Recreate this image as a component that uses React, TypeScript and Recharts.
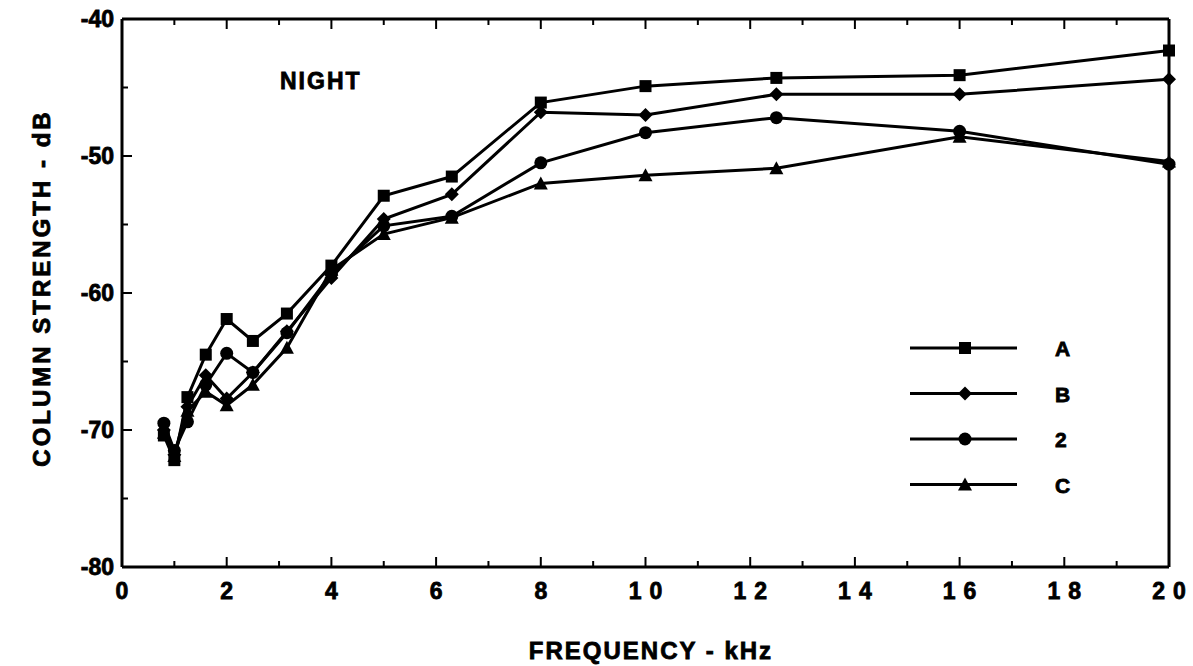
import React from "react";
import { LineChart, Line, XAxis, YAxis } from "recharts";

// 1/3-octave centre frequencies, kHz
const freqs = [0.8, 1.0, 1.25, 1.6, 2.0, 2.5, 3.15, 4.0, 5.0, 6.3, 8.0, 10, 12.5, 16, 20];

const seriesA = [-70.4, -72.2, -67.6, -64.5, -61.9, -63.5, -61.5, -58.0, -52.9, -51.5, -46.1, -44.9, -44.3, -44.1, -42.3];
const seriesB = [-70.0, -71.8, -68.3, -66.0, -67.7, -65.8, -62.8, -58.9, -54.6, -52.8, -46.8, -47.0, -45.5, -45.5, -44.4];
const series2 = [-69.5, -71.5, -69.4, -66.7, -64.4, -65.8, -62.9, -58.6, -55.1, -54.4, -50.5, -48.3, -47.2, -48.2, -50.6];
const seriesC = [-70.2, -71.9, -68.6, -67.2, -68.2, -66.7, -64.0, -58.3, -55.7, -54.5, -52.0, -51.4, -50.9, -48.6, -50.4];

const xTicks = [0, 1, 2, 3, 4, 5, 6, 7, 8, 9, 10, 11, 12, 13, 14, 15, 16, 17, 18, 19, 20];
const yTicks = [-80, -75, -70, -65, -60, -55, -50, -45, -40];

const legendItems = [
  { key: "A", name: "A", shape: "square" },
  { key: "B", name: "B", shape: "diamond" },
  { key: "S2", name: "2", shape: "circle" },
  { key: "C", name: "C", shape: "triangle" },
];

const data = freqs.map((f, i) => ({
  f,
  A: seriesA[i],
  B: seriesB[i],
  S2: series2[i],
  C: seriesC[i],
}));

const FONT = "'Liberation Sans', Arial, Helvetica, sans-serif";
const INK = "#000";
// the scanned lettering is heavier than plain bold, so thicken it a little
const heavy = { fontFamily: FONT, fontWeight: "bold" as const, fill: INK, stroke: INK, strokeWidth: 0.8 };

function Marker({ shape, cx, cy }: { shape: string; cx: number; cy: number }) {
  if (cx == null || cy == null) return null;
  if (shape === "square") {
    return <rect x={cx - 6} y={cy - 6} width={12} height={12} fill={INK} />;
  }
  if (shape === "diamond") {
    return (
      <polygon
        points={`${cx},${cy - 7} ${cx + 7},${cy} ${cx},${cy + 7} ${cx - 7},${cy}`}
        fill={INK}
      />
    );
  }
  if (shape === "circle") {
    return <circle cx={cx} cy={cy} r={6.5} fill={INK} />;
  }
  return (
    <polygon
      points={`${cx},${cy - 7} ${cx + 7},${cy + 6} ${cx - 7},${cy + 6}`}
      fill={INK}
    />
  );
}

const dotFor = (shape: string) => (p: any) =>
  <Marker key={`${shape}-${p.index}`} shape={shape} cx={p.cx} cy={p.cy} />;

// tick renderers: ticks point into the plot, labels only on the major ones
function BottomTick(p: any) {
  const v = p.payload.value;
  const major = v % 2 === 0;
  return (
    <g>
      <line x1={p.x} x2={p.x} y1={p.y} y2={p.y - (major ? 10 : 6)} stroke={INK} strokeWidth={2} />
      {major && (
        <text
          x={p.x}
          y={p.y + 32}
          textAnchor="middle"
          fontSize={23}
          letterSpacing={v >= 10 ? 8 : 0}
          dx={v >= 10 ? 4 : 0}
          {...heavy}
        >
          {v}
        </text>
      )}
    </g>
  );
}

function TopTick(p: any) {
  const major = p.payload.value % 2 === 0;
  return <line x1={p.x} x2={p.x} y1={p.y} y2={p.y + (major ? 10 : 6)} stroke={INK} strokeWidth={2} />;
}

function LeftTick(p: any) {
  const v = p.payload.value;
  const major = v % 10 === 0;
  return (
    <g>
      <line x1={p.x} x2={p.x + (major ? 10 : 6)} y1={p.y} y2={p.y} stroke={INK} strokeWidth={2} />
      {major && (
        <text x={p.x - 8} y={p.y + 8} textAnchor="end" fontSize={23} {...heavy}>
          {v}
        </text>
      )}
    </g>
  );
}

function RightTick(p: any) {
  const major = p.payload.value % 10 === 0;
  return <line x1={p.x} x2={p.x - (major ? 10 : 6)} y1={p.y} y2={p.y} stroke={INK} strokeWidth={2} />;
}

export default function App() {
  const W = 1193;
  const H = 666;

  return (
    <div style={{ position: "absolute", left: 0, top: 0, width: W, height: H, background: "#fff" }}>
      <LineChart
        width={W}
        height={H}
        data={data}
        margin={{ top: 17, right: 22, bottom: 39, left: 62 }}
      >
        <XAxis
          xAxisId="b"
          dataKey="f"
          type="number"
          domain={[0, 20]}
          ticks={xTicks}
          interval={0}
          height={60}
          tickSize={0}
          tickMargin={0}
          tickLine={false}
          axisLine={{ stroke: INK, strokeWidth: 3 }}
          tick={<BottomTick />}
        />
        <XAxis
          xAxisId="t"
          orientation="top"
          dataKey="f"
          type="number"
          domain={[0, 20]}
          ticks={xTicks}
          interval={0}
          height={2}
          tickSize={0}
          tickMargin={0}
          tickLine={false}
          axisLine={{ stroke: INK, strokeWidth: 3 }}
          tick={<TopTick />}
        />
        <YAxis
          yAxisId="l"
          type="number"
          domain={[-80, -40]}
          ticks={yTicks}
          interval={0}
          width={60}
          tickSize={0}
          tickMargin={0}
          tickLine={false}
          axisLine={{ stroke: INK, strokeWidth: 3 }}
          tick={<LeftTick />}
        />
        <YAxis
          yAxisId="r"
          orientation="right"
          type="number"
          domain={[-80, -40]}
          ticks={yTicks}
          interval={0}
          width={2}
          tickSize={0}
          tickMargin={0}
          tickLine={false}
          axisLine={{ stroke: INK, strokeWidth: 3 }}
          tick={<RightTick />}
        />
        {legendItems.map((s) => (
          <Line
            key={s.key}
            xAxisId="b"
            yAxisId="l"
            dataKey={s.key}
            name={s.name}
            type="linear"
            stroke={INK}
            strokeWidth={3}
            dot={dotFor(s.shape)}
            activeDot={false}
            isAnimationActive={false}
          />
        ))}
      </LineChart>

      {/* titles, panel label and the legend box */}
      <svg
        width={W}
        height={H}
        style={{ position: "absolute", left: 0, top: 0, pointerEvents: "none" }}
      >
        <text x={280} y={89} fontSize={23} letterSpacing={2} {...heavy}>
          NIGHT
        </text>
        <text x={651} y={659} textAnchor="middle" fontSize={24} letterSpacing={2} {...heavy}>
          FREQUENCY - kHz
        </text>
        <text
          transform="translate(50,288) rotate(-90)"
          textAnchor="middle"
          fontSize={24}
          letterSpacing={3}
          {...heavy}
        >
          COLUMN STRENGTH - dB
        </text>
        {legendItems.map((s, i) => {
          const y = 348 + i * 45.5;
          return (
            <g key={s.key}>
              <line x1={910} x2={1017} y1={y} y2={y} stroke={INK} strokeWidth={3} />
              <Marker shape={s.shape} cx={965} cy={y} />
              <text x={1055} y={y + 8} fontSize={21} {...heavy}>
                {s.name}
              </text>
            </g>
          );
        })}
      </svg>
    </div>
  );
}
